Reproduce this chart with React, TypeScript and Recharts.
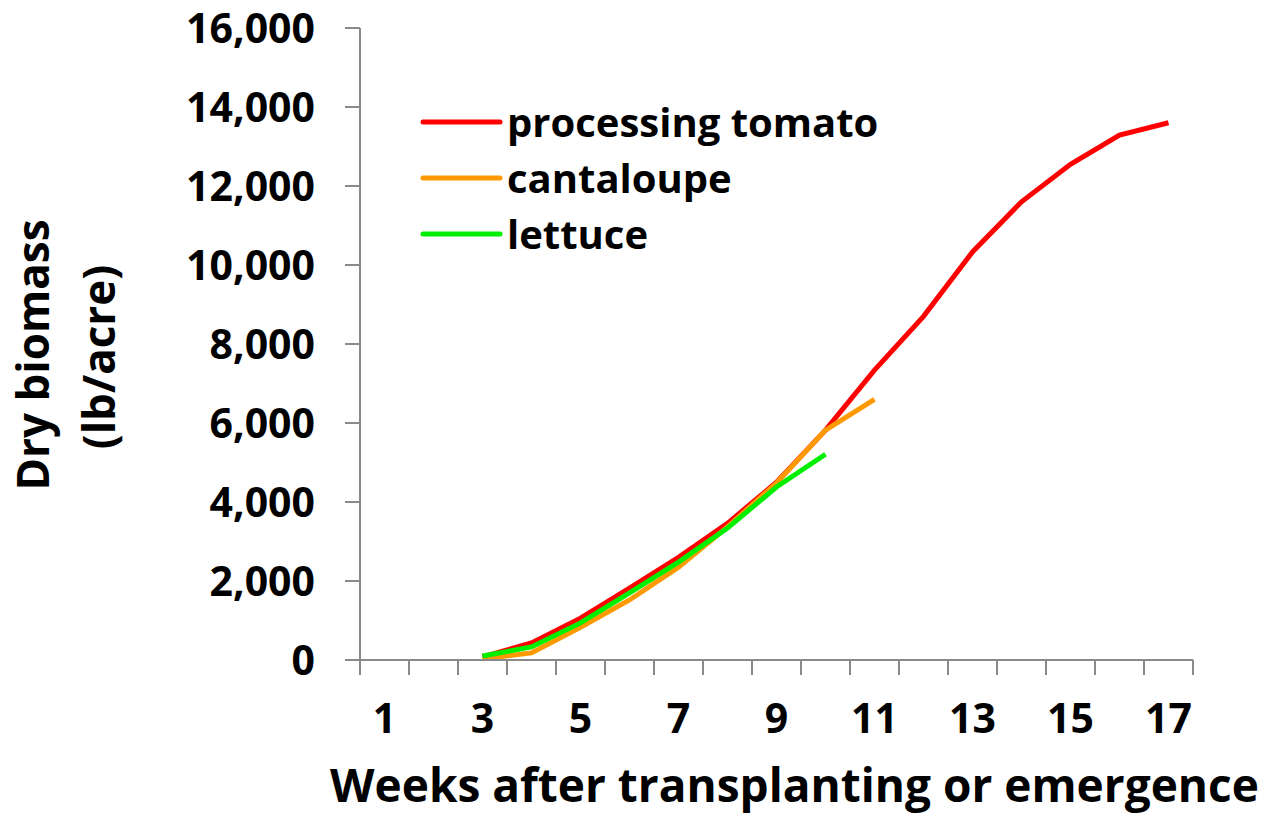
import { LineChart, Line, XAxis, YAxis, Legend, Label } from 'recharts';

const weeks = [1, 2, 3, 4, 5, 6, 7, 8, 9, 10, 11, 12, 13, 14, 15, 16, 17];
const tomato = [null, null, 80, 430, 1060, 1820, 2600, 3460, 4500, 5820, 7340, 8700, 10330, 11600, 12550, 13290, 13600];
const cantaloupe = [null, null, 30, 180, 830, 1520, 2350, 3370, 4480, 5820, 6600, null, null, null, null, null, null];
const lettuce = [null, null, 100, 330, 940, 1700, 2480, 3340, 4380, 5210, null, null, null, null, null, null, null];
const seriesNames = ['processing tomato', 'cantaloupe', 'lettuce'];
const yTicks = [0, 2000, 4000, 6000, 8000, 10000, 12000, 14000, 16000];

const data = weeks.map((w, i) => ({
  week: w,
  tomato: tomato[i],
  cantaloupe: cantaloupe[i],
  lettuce: lettuce[i],
}));

const W = 1264;
const H = 818;
const LEFT = 360;
const RIGHT = 71;
const TOP = 28;
const BOTTOM_AXIS = 158;
const BAND = (W - LEFT - RIGHT) / weeks.length;
const FONT = '"Open Sans", sans-serif';
const GRAY = '#8a8a8a';

function WeekTick(props: any) {
  const { x, y, payload } = props;
  const wk = payload.value;
  const half = BAND / 2;
  return (
    <g>
      <line x1={x - half} x2={x - half} y1={y} y2={y + 15} stroke={GRAY} strokeWidth={2} />
      {wk === weeks[weeks.length - 1] && (
        <line x1={x + half} x2={x + half} y1={y} y2={y + 15} stroke={GRAY} strokeWidth={2} />
      )}
      {wk % 2 === 1 && (
        <text x={x} y={y + 73} textAnchor="middle" fontFamily={FONT} fontWeight={700} fontSize={41} fill="#000">
          {wk}
        </text>
      )}
    </g>
  );
}

function renderLegend(props: any) {
  const items = [...(props.payload || [])].sort(
    (a: any, b: any) => seriesNames.indexOf(a.value) - seriesNames.indexOf(b.value)
  );
  return (
    <div>
      {items.map((p: any) => (
        <div key={p.value} style={{ display: 'flex', alignItems: 'center', height: 56 }}>
          <svg width={87} height={10}>
            <line x1={3} x2={80} y1={5} y2={5} stroke={p.color} strokeWidth={5} strokeLinecap="round" />
          </svg>
          <span style={{ fontFamily: FONT, fontWeight: 700, fontSize: 40, color: '#000', lineHeight: '56px' }}>
            {p.value}
          </span>
        </div>
      ))}
    </div>
  );
}

export default function App() {
  return (
    <div style={{ position: 'absolute', left: 0, top: 0, background: '#fff' }}>
      <LineChart width={W} height={H} data={data} margin={{ top: TOP, right: RIGHT, bottom: 0, left: 0 }}>
        <XAxis
          dataKey="week"
          type="number"
          domain={[0.5, 17.5]}
          ticks={weeks}
          interval={0}
          height={BOTTOM_AXIS}
          tickSize={0}
          tickMargin={0}
          tickLine={false}
          axisLine={{ stroke: GRAY, strokeWidth: 2 }}
          tick={<WeekTick />}
        >
          <Label
            content={(p: any) => {
              const vb = p.viewBox;
              return (
                <text
                  x={vb.x + vb.width / 2 + 18}
                  y={vb.y + 142}
                  textAnchor="middle"
                  fontFamily={FONT}
                  fontWeight={700}
                  fontSize={46}
                  fill="#000"
                >
                  Weeks after transplanting or emergence
                </text>
              );
            }}
          />
        </XAxis>
        <YAxis
          width={LEFT}
          domain={[0, 16000]}
          ticks={yTicks}
          interval={0}
          tickSize={15}
          tickMargin={30}
          tickFormatter={(v: number) => v.toLocaleString('en-US')}
          tick={{ fontFamily: FONT, fontWeight: 700, fontSize: 41, fill: '#000' }}
          axisLine={{ stroke: GRAY, strokeWidth: 2 }}
          tickLine={{ stroke: GRAY, strokeWidth: 2 }}
        >
          <Label
            content={() => (
              <g fontFamily={FONT} fontWeight={700} fill="#000">
                <text transform="translate(49,355) rotate(-90)" textAnchor="middle" fontSize={44}>
                  Dry biomass
                </text>
                <text transform="translate(115,357) rotate(-90)" textAnchor="middle" fontSize={44}>
                  (lb/acre)
                </text>
              </g>
            )}
          />
        </YAxis>
        <Legend
          layout="vertical"
          align="center"
          verticalAlign="middle"
          itemSorter={null}
          wrapperStyle={{ top: 94, left: 420, width: 'auto' }}
          content={renderLegend}
        />
        <Line name="processing tomato" dataKey="tomato" stroke="#ff0000" strokeWidth={5} dot={false} isAnimationActive={false} />
        <Line name="cantaloupe" dataKey="cantaloupe" stroke="#ff9900" strokeWidth={5} dot={false} isAnimationActive={false} />
        <Line name="lettuce" dataKey="lettuce" stroke="#00ee00" strokeWidth={5} dot={false} isAnimationActive={false} />
      </LineChart>
    </div>
  );
}
